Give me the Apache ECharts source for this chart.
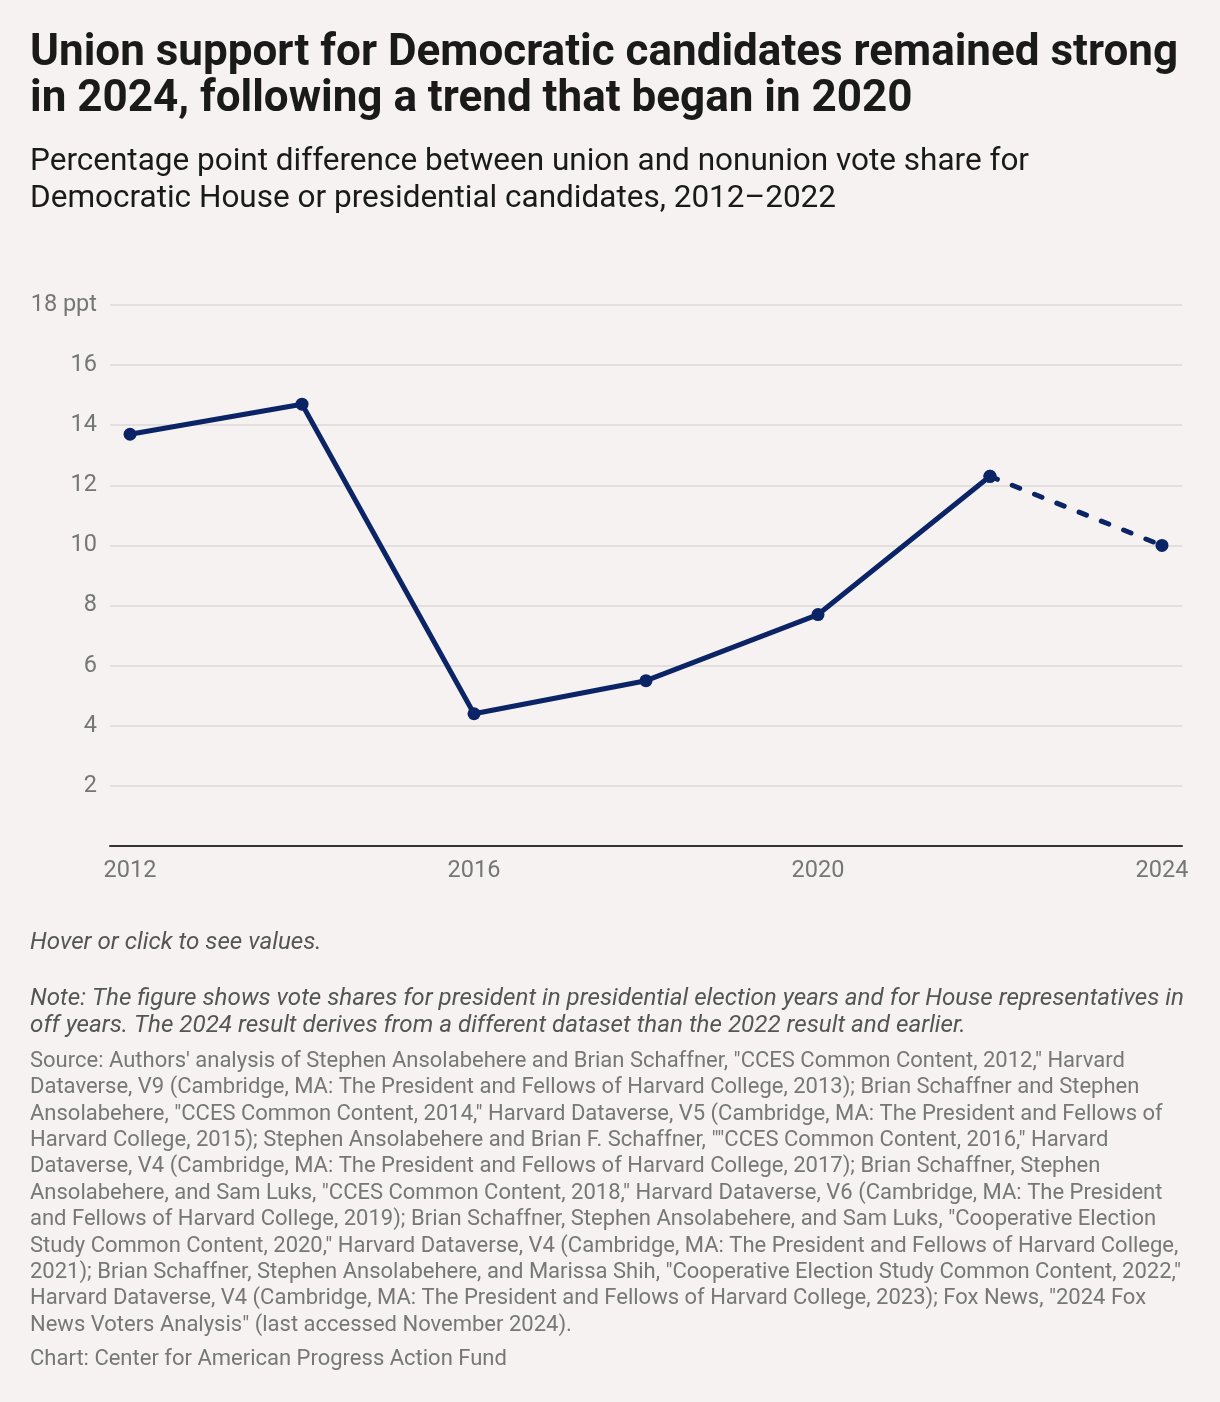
<!DOCTYPE html>
<html><head><meta charset="utf-8">
<script src="https://cdn.jsdelivr.net/npm/echarts@6/dist/echarts.min.js"></script>
<style>html,body{margin:0;padding:0;background:#f5f2f1;}#c{width:1220px;height:1402px;}</style>
</head><body><div id="c"></div>
<script>
const years = [2012, 2014, 2016, 2018, 2020, 2022, 2024];
const gapValues = [13.7, 14.7, 4.4, 5.5, 7.7, 12.3, 10.0];
const solidUntil = 2022;
const xTickLabels = [2012, 2016, 2020, 2024];
const yTicks = [2, 4, 6, 8, 10, 12, 14, 16, 18];

const titleText = "Union support for Democratic candidates remained strong\nin 2024, following a trend that began in 2020";
const subtitleText = "Percentage point difference between union and nonunion vote share for\nDemocratic House or presidential candidates, 2012\u20132022";
const hoverText = "Hover or click to see values.";
const noteText = "Note: The figure shows vote shares for president in presidential election years and for House representatives in\noff years. The 2024 result derives from a different dataset than the 2022 result and earlier.";
const sourceText = [
"Source: Authors' analysis of Stephen Ansolabehere and Brian Schaffner, \"CCES Common Content, 2012,\" Harvard",
"Dataverse, V9 (Cambridge, MA: The President and Fellows of Harvard College, 2013); Brian Schaffner and Stephen",
"Ansolabehere, \"CCES Common Content, 2014,\" Harvard Dataverse, V5 (Cambridge, MA: The President and Fellows of",
"Harvard College, 2015); Stephen Ansolabehere and Brian F. Schaffner, \"\"CCES Common Content, 2016,\" Harvard",
"Dataverse, V4 (Cambridge, MA: The President and Fellows of Harvard College, 2017); Brian Schaffner, Stephen",
"Ansolabehere, and Sam Luks, \"CCES Common Content, 2018,\" Harvard Dataverse, V6 (Cambridge, MA: The President",
"and Fellows of Harvard College, 2019); Brian Schaffner, Stephen Ansolabehere, and Sam Luks, \"Cooperative Election",
"Study Common Content, 2020,\" Harvard Dataverse, V4 (Cambridge, MA: The President and Fellows of Harvard College,",
"2021); Brian Schaffner, Stephen Ansolabehere, and Marissa Shih, \"Cooperative Election Study Common Content, 2022,\"",
"Harvard Dataverse, V4 (Cambridge, MA: The President and Fellows of Harvard College, 2023); Fox News, \"2024 Fox",
"News Voters Analysis\" (last accessed November 2024)."
].join("\n");
const creditText = "Chart: Center for American Progress Action Fund";

const FONT = "Roboto";
const LINE = "#0b2466";

const solidData = [], dashData = [];
years.forEach((y, i) => {
  if (y <= solidUntil) solidData.push([y, gapValues[i]]);
  if (y >= solidUntil) dashData.push([y, gapValues[i]]);
});

const chart = echarts.init(document.getElementById('c'), null, {renderer: 'canvas'});
chart.setOption({
  backgroundColor: '#f5f2f1',
  animation: false,
  textStyle: {fontFamily: FONT},
  grid: {left: 110, right: 38, top: 305, height: 541, containLabel: false},
  xAxis: {
    type: 'value', min: 2011.767, max: 2024.233,
    splitLine: {show: false},
    axisLine: {show: true, lineStyle: {color: '#333', width: 2}},
    axisTick: {show: false},
    axisLabel: {customValues: xTickLabels, formatter: v => String(v), color: '#767676', fontSize: 23.5, fontFamily: FONT, margin: 13}
  },
  yAxis: {
    type: 'value', min: 0, max: 18, interval: 2,
    axisLine: {show: false}, axisTick: {show: false},
    splitLine: {lineStyle: {color: '#dcd9d8', width: 1.5}},
    axisLabel: {color: '#767676', fontSize: 23.5, fontFamily: FONT, margin: 13,
      formatter: v => v === 0 ? '' : (v === 18 ? '18 ppt' : String(v))}
  },
  tooltip: {trigger: 'axis'},
  series: [
    {type: 'line', data: solidData, lineStyle: {color: LINE, width: 5}, itemStyle: {color: LINE},
     symbol: 'circle', symbolSize: 13, z: 3},
    {type: 'line', data: dashData, lineStyle: {color: LINE, width: 5, type: [8, 16], cap: 'round'}, itemStyle: {color: LINE},
     symbol: 'circle', symbolSize: 13, z: 3}
  ],
  graphic: [
    {type: 'text', left: 30, top: 31, style: {text: titleText, font: `bold 44px ${FONT}`, fill: '#1a1a1a', lineHeight: 46}},
    {type: 'text', left: 30, top: 144, style: {text: subtitleText, font: `31.5px ${FONT}`, fill: '#1a1a1a', lineHeight: 37}},
    {type: 'text', left: 30, top: 929, style: {text: hoverText, font: `italic 24.2px ${FONT}`, fill: '#555', lineHeight: 27}},
    {type: 'text', left: 30, top: 985, style: {text: noteText, font: `italic 24.2px ${FONT}`, fill: '#555', lineHeight: 27}},
    {type: 'text', left: 30, top: 1048, style: {text: sourceText, font: `22px ${FONT}`, fill: '#777', lineHeight: 26.4}},
    {type: 'text', left: 30, top: 1346, style: {text: creditText, font: `22px ${FONT}`, fill: '#777', lineHeight: 26}}
  ]
});
</script></body></html>
